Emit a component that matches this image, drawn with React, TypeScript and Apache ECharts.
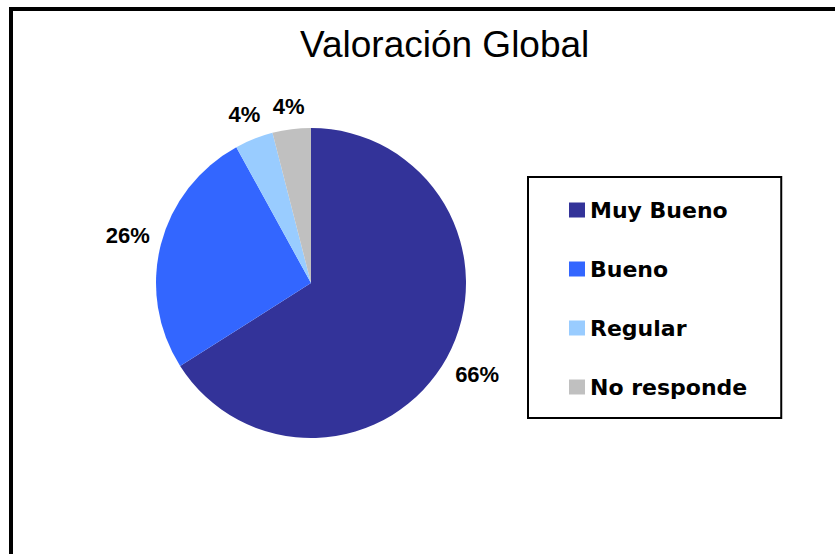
import React, { useEffect, useRef } from "react";
import * as echarts from "echarts";

const titleText = "Valoración Global";
const categories = ["Muy Bueno", "Bueno", "Regular", "No responde"];
const values = [66, 26, 4, 4];
const colors = ["#333399", "#3366FF", "#99CCFF", "#C0C0C0"];

const CENTER = [311, 283];
const RADIUS = 155;
const LABEL_RING = [160, 200];
const LABEL_GAP = 7; // gap between pie edge and nearest corner of the label box

export default function App() {
  const ref = useRef<HTMLDivElement>(null);
  useEffect(() => {
    document.body.style.margin = "0";
    const chart = echarts.init(ref.current!, null, { renderer: "svg" });
    const data = categories.map((name, i) => ({
      name,
      value: values[i],
      itemStyle: { color: colors[i] },
    }));
    const ringMid = (LABEL_RING[0] + LABEL_RING[1]) / 2;
    chart.setOption({
      animation: false,
      backgroundColor: "#ffffff",
      title: {
        text: titleText,
        left: 300,
        top: 26,
        padding: 0,
        textStyle: {
          fontFamily: "Liberation Sans, Arial, sans-serif",
          fontSize: 37,
          fontWeight: "normal",
          color: "#000",
        },
      },
      legend: {
        orient: "vertical",
        left: 528,
        top: 177,
        padding: [22, 34, 20, 41],
        itemGap: 37,
        itemWidth: 16,
        itemHeight: 15,
        icon: "rect",
        borderColor: "#000",
        borderWidth: 2,
        data: categories,
        selectedMode: false,
        textStyle: {
          fontFamily: "DejaVu Sans, sans-serif",
          fontWeight: "bold",
          fontSize: 22,
          lineHeight: 22,
          color: "#000",
        },
      },
      graphic: [
        {
          type: "rect",
          shape: { x: 11, y: 9, width: 1000, height: 1000 },
          style: { fill: "none", stroke: "#000", lineWidth: 4 },
          silent: true,
        },
      ],
      series: [
        {
          type: "pie",
          center: CENTER,
          radius: RADIUS,
          startAngle: 90,
          clockwise: true,
          label: { show: false },
          labelLine: { show: false },
          itemStyle: { borderWidth: 0 },
          emphasis: { disabled: true },
          data,
        },
        {
          type: "pie",
          center: CENTER,
          radius: LABEL_RING,
          startAngle: 90,
          clockwise: true,
          silent: true,
          legendHoverLink: false,
          itemStyle: { color: "rgba(0,0,0,0)", borderWidth: 0 },
          emphasis: { disabled: true },
          label: {
            show: true,
            position: "inside",
            formatter: "{c}%",
            color: "#000",
            fontFamily: "Liberation Sans, Arial, sans-serif",
            fontWeight: "bold",
            fontSize: 22,
          },
          labelLine: { show: false },
          labelLayout: (p: any) => {
            const r = p.labelRect;
            const lx = r.x + r.width / 2 - CENTER[0];
            const ly = r.y + r.height / 2 - CENTER[1];
            const len = Math.sqrt(lx * lx + ly * ly) || 1;
            const ux = lx / len;
            const uy = ly / len;
            const t =
              RADIUS + LABEL_GAP + (r.width / 2) * Math.abs(ux) + (r.height / 2) * Math.abs(uy);
            return { dx: ux * (t - ringMid), dy: uy * (t - ringMid) };
          },
          data: categories.map((name, i) => ({ name, value: values[i] })),
        },
      ],
    });
    return () => chart.dispose();
  }, []);
  return <div ref={ref} style={{ width: 835, height: 554 }} />;
}
